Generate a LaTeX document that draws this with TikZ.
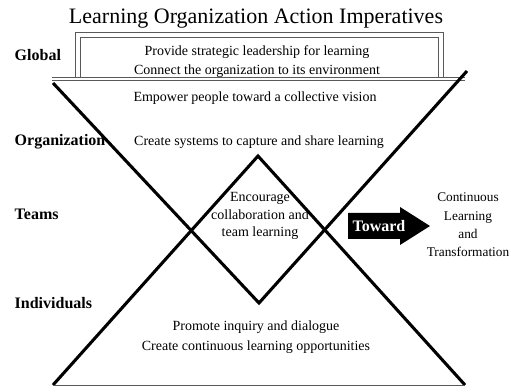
\documentclass[tikz,border=0pt]{standalone}
\usepackage{fontspec}
\setmainfont{Liberation Serif}

\tikzset{
  level/.style={anchor=west, font=\fontsize{12}{14}\selectfont\bfseries},
  imperative/.style={align=center, inner sep=1pt, font=\fontsize{10.5}{14.5}\selectfont},
  frame/.style={draw=black!65, line width=0.7pt},
  bar/.style={line width=2.3pt},
}

\begin{document}
\begin{tikzpicture}[x=0.75pt, y=-0.75pt]
    \useasboundingbox (0,0) rectangle (511,392);

    % Title
    \node[font=\fontsize{16.5}{20}\selectfont] (title) at (256,19) {Learning Organization Action Imperatives};

    % Double frame of the global level, standing on a double rule
    \draw[frame] (75,77) |- (443,32) -- (443,77);
    \draw[frame] (80,77) |- (438,37) -- (438,77);
    \draw[frame] (52,77) -- (465,77);
    \draw[frame] (52,80) -- (465,80);

    % Corners of the funnel (V) and the pyramid (A)
    \coordinate (vtl) at (53,83);
    \coordinate (vbot) at (259,303);
    \coordinate (vtr) at (467,71);
    \coordinate (abl) at (53,385);
    \coordinate (atop) at (258,156);
    \coordinate (abr) at (465,385);

    \draw[bar] (vtl) -- (vbot) -- (vtr);
    \draw[bar] (abl) -- (atop) -- (abr);
    \draw[frame] (abl) -- (abr);

    % Levels on the left
    \node[level] (global) at (10,55) {Global};
    \node[level] (organization) at (10,142) {Organization};
    \node[level] (teams) at (10,214) {Teams};
    \node[level] (individuals) at (10,303) {Individuals};

    % Imperatives
    \node[imperative] (provide) at (257,61.5) {Provide strategic leadership for learning\\Connect the organization to its environment};
    \node[imperative] (empower) at (255,98) {Empower people toward a collective vision};
    \node[imperative] (systems) at (259,142) {Create systems to capture and share learning};
    \node[imperative, font=\fontsize{10.5}{13}\selectfont] (encourage) at (260,216) {Encourage\\collaboration and\\team learning};
    \node[imperative, font=\fontsize{10.5}{15}\selectfont] (inquiry) at (256,337) {Promote inquiry and dialogue\\Create continuous learning opportunities};

    % Arrow towards the goal
    \fill (348,213) -- (400,213) -- (400,207) -- (430,226) -- (400,245) -- (400,239) -- (348,239) -- cycle;
    \node[text=white, font=\fontsize{12}{14}\selectfont\bfseries] (toward) at (379,226) {Toward};
    \node[imperative, font=\fontsize{10}{13.7}\selectfont] (goal) at (468,225) {Continuous\\Learning\\and\\Transformation};
\end{tikzpicture}
\end{document}
